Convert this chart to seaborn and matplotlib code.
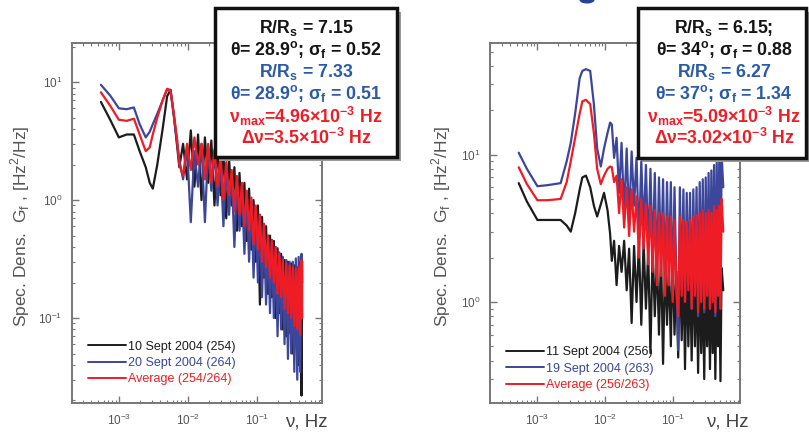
import pandas as pd
import matplotlib
matplotlib.use("Agg")
import matplotlib.pyplot as plt
import seaborn as sns
from matplotlib.patches import Rectangle, Ellipse

# 周波数 [Hz] (左パネル)
freq_left = [5.5e-4, 7.5e-4, 1.0e-3, 1.3e-3, 1.65e-3, 2.0e-3, 2.45e-3, 2.8e-3, 3.1e-3, 3.6e-3,
             4.3e-3, 5.0e-3, 5.6e-3, 6.3e-3, 7.0e-3,
             0.0075, 0.0085, 0.0097, 0.011, 0.0124, 0.014, 0.0157, 0.0176, 0.0196, 0.0218,
             0.0242, 0.0268, 0.0296, 0.0326, 0.0358, 0.0393, 0.043, 0.047, 0.0512, 0.0557,
             0.0605, 0.0656, 0.071, 0.0767, 0.0827, 0.089, 0.0957, 0.103, 0.11, 0.118,
             0.126, 0.135, 0.144, 0.154, 0.164, 0.175, 0.186, 0.198, 0.21, 0.223,
             0.236, 0.25, 0.265, 0.28, 0.296, 0.312, 0.329, 0.346, 0.364, 0.382,
             0.4, 0.42, 0.44, 0.45]

g_left_black = [6.8, 4.8, 3.4, 3.6, 3.6, 2.6, 1.9, 1.4, 1.25, 2.0, 4.0, 7.6, 8.6, 5.0, 2.8,
                1.9, 3.0, 1.5, 3.9, 1.3, 3.6, 1.0, 3.4, 1.4, 3.2, 0.9, 2.9, 1.1, 2.5, 0.7,
                2.3, 0.9, 1.9, 0.55, 1.7, 0.6, 1.4, 0.45, 1.25, 0.38, 1.0, 0.3, 0.9, 0.13, 0.72,
                0.22, 0.6, 0.16, 0.5, 0.15, 0.45, 0.1, 0.39, 0.11, 0.35, 0.08, 0.31, 0.07, 0.3,
                0.075, 0.29, 0.05, 0.28, 0.06, 0.27, 0.04, 0.3, 0.022, 0.3]
g_left_blue = [9.5, 7.7, 6.0, 5.9, 6.1, 4.4, 3.4, 3.8, 4.4, 5.4, 7.0, 8.7, 8.6, 5.0, 3.0,
               2.2, 1.5, 2.8, 0.65, 2.6, 1.3, 3.0, 0.65, 2.8, 1.2, 2.6, 0.9, 2.2, 0.6, 2.0,
               0.75, 1.7, 0.4, 1.5, 0.55, 1.3, 0.35, 1.15, 0.3, 1.0, 0.22, 0.88, 0.2, 0.75, 0.15,
               0.62, 0.13, 0.5, 0.11, 0.46, 0.1, 0.4, 0.07, 0.36, 0.08, 0.33, 0.06, 0.31, 0.045,
               0.3, 0.05, 0.3, 0.035, 0.32, 0.03, 0.33, 0.035, 0.35, 0.2]
g_left_avg = [8.2, 6.3, 4.8, 4.7, 4.9, 3.6, 2.6, 2.8, 3.6, 5.0, 7.0, 8.8, 8.4, 5.2, 3.2,
              2.0, 1.6, 3.0, 1.8, 3.4, 2.0, 3.0, 1.5, 3.0, 1.4, 2.7, 1.3, 2.4, 1.0, 2.1,
              1.1, 1.8, 0.8, 1.6, 0.75, 1.4, 0.6, 1.2, 0.55, 1.05, 0.42, 0.9, 0.38, 0.75, 0.3,
              0.63, 0.27, 0.5, 0.22, 0.45, 0.2, 0.4, 0.16, 0.35, 0.15, 0.31, 0.12, 0.29, 0.11,
              0.28, 0.1, 0.27, 0.085, 0.26, 0.08, 0.27, 0.072, 0.31, 0.1]

# 周波数 [Hz] (右パネル)
freq_right = [5.3e-4, 7.0e-4, 1.0e-3, 1.4e-3, 2.2e-3, 2.7e-3, 3.1e-3, 3.6e-3, 4.2e-3, 4.6e-3,
              5.2e-3, 6.0e-3, 6.8e-3, 7.6e-3, 8.6e-3, 9.6e-3, 0.0108, 0.0118,
              0.0125, 0.0135, 0.0147, 0.016, 0.0174, 0.019, 0.0207, 0.0225, 0.0245, 0.0266,
              0.0289, 0.0314, 0.034, 0.0368, 0.0398, 0.043, 0.0464, 0.05, 0.0538, 0.0578,
              0.062, 0.0665, 0.0712, 0.0762, 0.0814, 0.0869, 0.0927, 0.0988, 0.105, 0.112,
              0.119, 0.126, 0.134, 0.142, 0.15, 0.159, 0.168, 0.178, 0.188, 0.199,
              0.21, 0.222, 0.234, 0.247, 0.26, 0.274, 0.288, 0.303, 0.318, 0.334,
              0.35, 0.367, 0.384, 0.402, 0.42, 0.44, 0.46, 0.48, 0.5, 0.52, 0.55]

g_right_black = [6.4, 4.8, 3.6, 3.6, 3.6, 3.3, 3.0, 4.0, 5.8, 7.0, 7.2, 6.0, 4.5, 3.8, 4.6, 5.5, 4.2, 2.9,
                 1.9, 2.6, 1.3, 2.4, 1.6, 2.6, 1.2, 2.3, 0.72, 2.4, 1.0, 2.5, 0.7, 2.6, 0.9, 2.2,
                 0.45, 2.4, 0.8, 2.0, 0.6, 2.2, 0.38, 2.0, 0.7, 1.8, 0.5, 2.2, 0.6, 1.6, 0.42, 2.0,
                 0.55, 1.8, 0.35, 2.0, 0.5, 1.7, 0.4, 2.0, 0.5, 1.6, 0.33, 1.8, 0.45, 1.5, 0.3, 1.7,
                 0.5, 1.5, 0.35, 1.9, 0.45, 1.6, 0.3, 1.8, 0.5, 1.5, 0.29, 1.7, 1.2]
g_right_blue = [10.3, 8.0, 6.1, 6.2, 6.4, 9.0, 12, 19, 33, 37, 38, 37, 22, 11, 8.3, 11, 14, 16.5,
                16, 9.5, 13, 5.5, 12, 4.0, 11, 3.5, 10.5, 4.5, 9.5, 2.6, 9.0, 3.0, 8.5, 2.2,
                8.0, 2.0, 7.5, 1.5, 7.0, 1.8, 6.8, 1.3, 6.5, 1.6, 6.5, 1.1, 6.0, 1.4, 0.47, 6.0,
                1.2, 5.8, 1.0, 5.5, 1.3, 5.5, 0.9, 5.8, 1.2, 6.0, 0.8, 6.5, 1.1, 6.8, 0.85, 7.0,
                1.2, 7.5, 0.9, 7.8, 1.1, 8.5, 0.8, 8.8, 1.3, 9.5, 0.9, 10, 6.0]
g_right_avg = [8.2, 6.3, 4.9, 4.9, 5.0, 6.5, 9.0, 13, 19, 23, 23.5, 22, 14, 8.0, 6.3, 7.2, 8.0, 8.3,
               8.2, 6.5, 7.2, 4.0, 6.8, 3.2, 6.0, 2.8, 5.8, 3.0, 5.2, 2.0, 5.0, 2.3, 4.6, 1.8,
               4.5, 1.6, 4.2, 1.3, 4.0, 1.5, 4.0, 1.1, 3.8, 1.3, 3.8, 1.0, 3.6, 1.2, 0.8, 3.8,
               1.1, 3.6, 1.0, 3.5, 1.2, 3.6, 0.9, 3.8, 1.1, 3.9, 0.85, 4.0, 1.0, 4.2, 0.9, 4.0,
               1.1, 4.2, 0.9, 4.0, 1.0, 4.5, 0.85, 4.2, 1.1, 4.5, 0.9, 5.0, 3.0]

labels_left = ["10 Sept 2004 (254)", "20 Sept 2004 (264)", "Average (254/264)"]
labels_right = ["11 Sept 2004 (256)", "19 Sept 2004 (263)", "Average (256/263)"]

box_left = [("R/R$_\\mathregular{s}$ = 7.15", "k"),
            ("θ= 28.9$^\\mathregular{o}$; σ$_\\mathregular{f}$ = 0.52", "k"),
            ("R/R$_\\mathregular{s}$ = 7.33", "b"),
            ("θ= 28.9$^\\mathregular{o}$; σ$_\\mathregular{f}$ = 0.51", "b"),
            ("ν$_\\mathregular{max}$=4.96×10$^\\mathregular{-3}$ Hz", "r"),
            ("Δν=3.5×10$^\\mathregular{-3}$ Hz", "r")]
box_right = [("R/R$_\\mathregular{s}$ = 6.15;", "k"),
             ("θ= 34$^\\mathregular{o}$; σ$_\\mathregular{f}$ = 0.88", "k"),
             ("R/R$_\\mathregular{s}$ = 6.27", "b"),
             ("θ= 37$^\\mathregular{o}$; σ$_\\mathregular{f}$ = 1.34", "b"),
             ("ν$_\\mathregular{max}$=5.09×10$^\\mathregular{-3}$ Hz", "r"),
             ("Δν=3.02×10$^\\mathregular{-3}$ Hz", "r")]

line_colors = ["#1c1c1c", "#3c469a", "#ee1c25"]
text_colors = {"k": "#151515", "b": "#2a5aa8", "r": "#ee1c25"}

sns.set_theme(style="ticks")
plt.rcParams["font.family"] = ["Liberation Sans", "DejaVu Sans"]
plt.rcParams["mathtext.fontset"] = "dejavusans"

fig = plt.figure(figsize=(8.09, 4.32), dpi=100)
fig.patch.set_facecolor("white")
ax_l = fig.add_axes([0.089, 0.067, 0.309, 0.833])
ax_r = fig.add_axes([0.6057, 0.067, 0.309, 0.833])


def draw_panel(ax, freq, series, labels, xlim, ylim, ylab_x, xlab_x, leg_y):
    frames = [pd.DataFrame({"freq": freq, "G": vals, "series": lab}) for lab, vals in zip(labels, series)]
    df = pd.concat(frames, ignore_index=True)
    sns.lineplot(data=df, x="freq", y="G", hue="series", hue_order=labels,
                 palette=dict(zip(labels, line_colors)), estimator=None, sort=False,
                 linewidth=1.6, ax=ax)
    ax.set_xscale("log")
    ax.set_yscale("log")
    ax.set_xlim(*xlim)
    ax.set_ylim(*ylim)
    ax.set_xticks([1e-3, 1e-2, 1e-1])
    ax.tick_params(which="both", direction="in", top=True, right=True, color="#777777",
                   labelcolor="#555555", labelsize=8.5, pad=7)
    ax.tick_params(which="major", length=5, width=1.0)
    ax.tick_params(which="minor", length=2.5, width=0.8)
    for sp in ax.spines.values():
        sp.set_color("#777777")
        sp.set_linewidth(1.4)
    ax.set_xlabel("")
    ax.set_ylabel("Spec. Dens.  G$_\\mathregular{f}$ , [Hz$^\\mathregular{2}$/Hz]",
                  color="#555555", fontsize=12.5)
    ax.yaxis.set_label_coords(ylab_x, 0.49)
    ax.text(xlab_x, -0.053, "ν, Hz", transform=ax.transAxes, ha="center", va="center",
            fontsize=13.5, color="#444444")
    handles, labs = ax.get_legend_handles_labels()
    leg = ax.legend(handles, labs, loc="lower left", bbox_to_anchor=(0.035, leg_y), frameon=False,
                    fontsize=9, labelcolor="linecolor", handlelength=3.0, handletextpad=0.2,
                    labelspacing=0.35, borderaxespad=0.2)
    for ln in leg.get_lines():
        ln.set_linewidth(1.4)


draw_panel(ax_l, freq_left, [g_left_black, g_left_blue, g_left_avg], labels_left,
           (2.1e-4, 0.87), (0.019, 21.4), -0.16, 0.936, 0.028)
draw_panel(ax_r, freq_right, [g_right_black, g_right_blue, g_right_avg], labels_right,
           (2.0e-4, 0.97), (0.206, 57), -0.15, 0.948, 0.012)


def draw_box(x0, x1, y_top, y_bot, cx, lines):
    W, H = 809, 432
    shadow = Rectangle((x0 / W + 4 / W, 1 - y_bot / H - 4 / H), (x1 - x0) / W, (y_bot - y_top) / H,
                       transform=fig.transFigure, facecolor="#9a9a9a", edgecolor="none", zorder=5)
    box = Rectangle((x0 / W, 1 - y_bot / H), (x1 - x0) / W, (y_bot - y_top) / H,
                    transform=fig.transFigure, facecolor="white", edgecolor="#111111",
                    linewidth=2.5, zorder=6)
    fig.patches.extend([shadow, box])
    for i, (txt, c) in enumerate(lines):
        fig.text(cx / W, 1 - (28 + 22 * i) / H, txt, ha="center", va="center", fontsize=12.8,
                 fontweight="bold", color=text_colors[c], zorder=7)


draw_box(215, 397, 8, 157, 306, box_left)
draw_box(638, 806, 8, 158, 724, box_right)

# スライドタイトルの切れ端
fig.patches.append(Ellipse((587 / 809, 1.0), 15 / 809, 7 / 432, transform=fig.transFigure,
                           facecolor="#2a3f95", edgecolor="none"))

fig.savefig("out.png", dpi=100)
